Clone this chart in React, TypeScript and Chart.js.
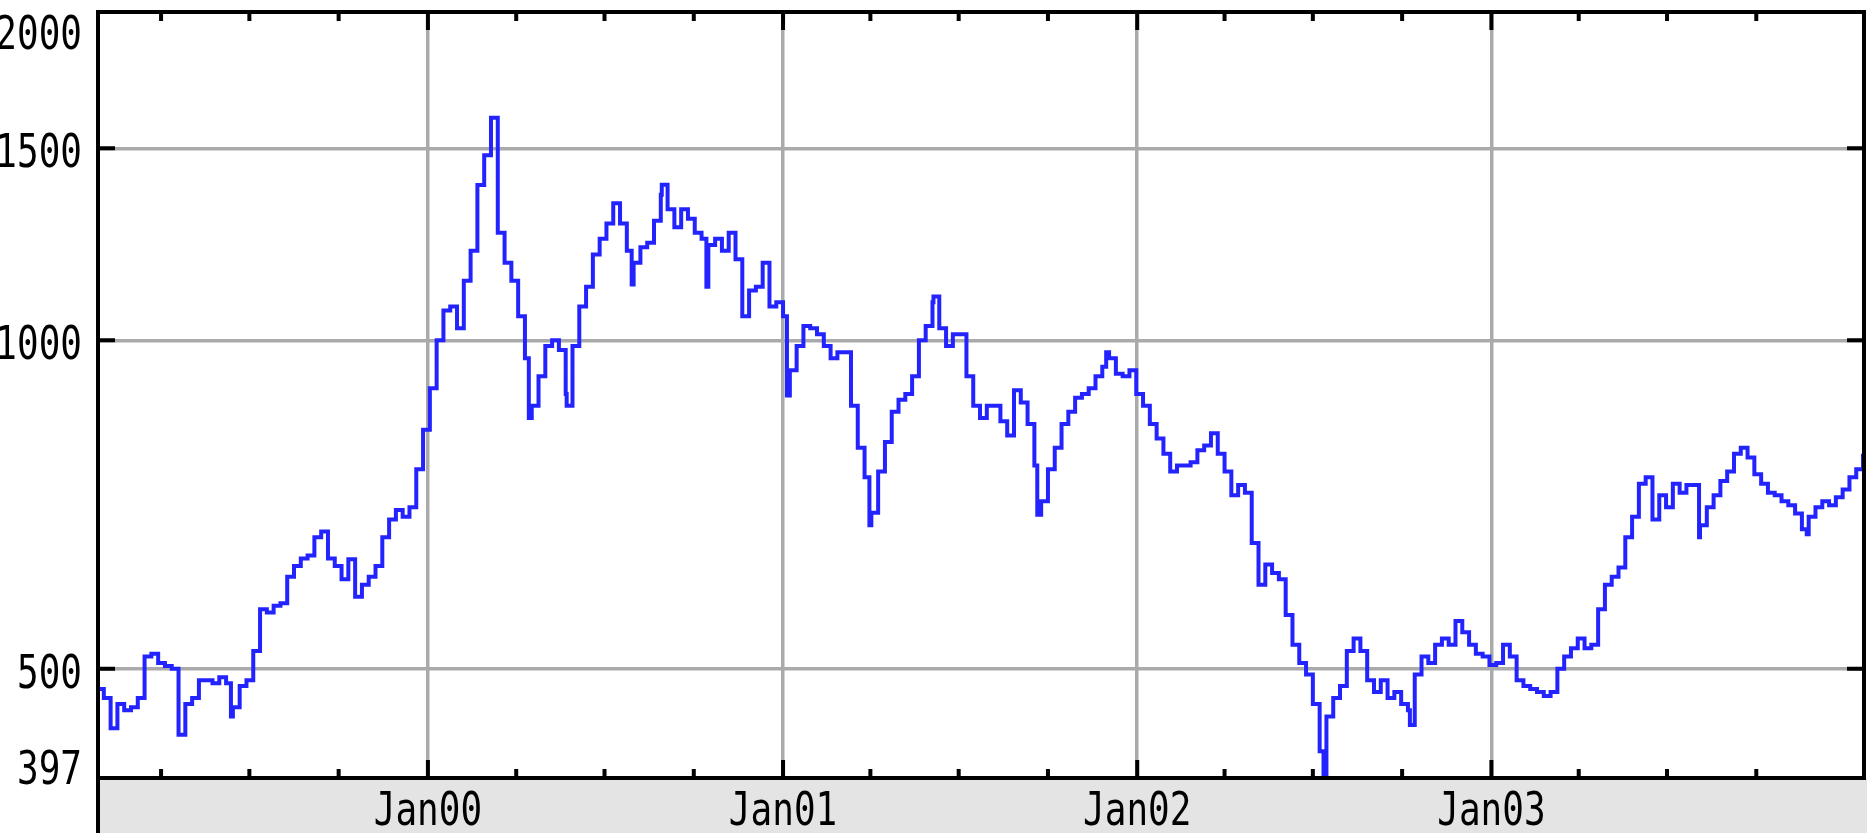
import React, { useEffect, useRef } from "react";
import { Chart, registerables } from "chart.js";

Chart.register(...registerables);

// ---- data (weekly closes) ----
const firstWeek = "1999-01-25";
const closes1 = [
  479, 470, 452, 464, 458, 461, 470, 513, 516, 506,
  503, 500, 435, 464, 470, 488, 488, 485, 491, 485,
  461, 482, 488, 519, 567, 563, 571, 574, 607, 621,
  631, 635, 660, 668, 631, 621, 604, 630, 582, 597,
  607, 621, 660, 685, 699, 689, 703, 762, 828, 904,
];
const closes2 = [
  1000, 1065, 1074, 1026, 1134, 1208, 1388, 1478, 1600, 1255,
  1178, 1134, 1052, 963, 871, 927, 988, 1000, 980, 893,
  988, 1074, 1120, 1199, 1239, 1280, 1336, 1280, 1208, 1178,
  1217, 1229, 1287, 1360, 1319, 1270, 1319, 1293, 1255, 1239,
  1223, 1239, 1208, 1255, 1187, 1092, 1111, 1120, 1178, 1074,
];
const closes3 = [
  1084, 1052, 939, 988, 1031, 1026, 1013, 988, 963, 975,
  975, 871, 797, 749, 695, 758, 807, 860, 882, 893,
  927, 1000, 1031, 1084, 1026, 988, 1013, 1013, 927, 871,
  849, 871, 871, 843, 818, 900, 877, 838, 768, 712,
  762, 797, 838, 860, 886, 893, 904, 927, 946, 963,
];
const closes4 = [
  932, 927, 939, 893, 871, 838, 813, 787, 758, 768,
  768, 773, 793, 801, 822, 787, 758, 721, 737, 725,
  652, 597, 623, 612, 604, 560, 526, 506, 494, 464,
  420, 452, 470, 482, 519, 533, 519, 488, 476, 488,
  470, 476, 464, 458, 494, 513, 506, 526, 533, 526,
];
const closes5 = [
  553, 540, 526, 516, 513, 504, 506, 526, 513, 488,
  482, 479, 476, 472, 476, 500, 513, 522, 533, 522,
  526, 567, 597, 607, 619, 660, 689, 739, 749, 685,
  721, 703, 739, 725, 737, 737, 677, 703, 721, 743,
  758, 787, 797, 781, 754, 739, 725, 721, 712, 706,
  694, 671, 689, 703, 712, 706, 718, 730, 749, 762,
  787,
];
// intra-week extremes visible in the reference (days since 2000-01-01, value)
const spikeDays = [-327, -203, 104, 143, 210, 241, 287, 324, 370, 455, 521, 628, 699, 923, 1012, 1310, 1421];
const spikeValues = [441, 452, 849, 871, 1125, 1389, 1120, 1052, 890, 677, 1097, 692, 975, 399, 444, 660, 664];

const yTickValues = [397, 500, 1000, 1500, 2000];
const yGridValues = [500, 1000, 1500];
const yearLabels = ["Jan00", "Jan01", "Jan02", "Jan03"];
const yearStarts = ["2000-01-01", "2001-01-01", "2002-01-01", "2003-01-01"];
const quarterStarts = [
  "1999-04-01", "1999-07-01", "1999-10-01",
  "2000-04-01", "2000-07-01", "2000-10-01",
  "2001-04-01", "2001-07-01", "2001-10-01",
  "2002-04-01", "2002-07-01", "2002-10-01",
  "2003-04-01", "2003-07-01", "2003-10-01",
];
const axisStart = "1999-01-26";
const axisEnd = "2004-01-20";

// ---- helpers ----
const DAY = 86400000;
const EPOCH = Date.parse("2000-01-01T00:00:00Z");
const dayNum = (s: string) => Math.round((Date.parse(s + "T00:00:00Z") - EPOCH) / DAY);

const allCloses = [...closes1, ...closes2, ...closes3, ...closes4, ...closes5];
const points = [
  ...allCloses.map((v, i) => ({ x: dayNum(firstWeek) + 7 * i, y: v })),
  ...spikeDays.map((d, i) => ({ x: d, y: spikeValues[i] })),
].sort((a, b) => a.x - b.x);

const FONT = "36px 'DejaVu Sans Mono', monospace";
const STRETCH = 1.3;
const CAP = 0.729 * 36 * STRETCH;

function drawLabel(ctx: CanvasRenderingContext2D, text: string, x: number, cy: number, align: CanvasTextAlign) {
  ctx.save();
  ctx.translate(x, cy + CAP / 2);
  ctx.scale(1, STRETCH);
  ctx.font = FONT;
  ctx.fillStyle = "#000";
  ctx.textAlign = align;
  ctx.textBaseline = "alphabetic";
  ctx.fillText(text, 0, 0);
  ctx.restore();
}

const framePlugin = {
  id: "frame",
  afterDraw(chart: any) {
    const { ctx, chartArea: a, scales } = chart;
    const xs = scales.x;
    const ys = scales.y;
    const H = chart.height;
    ctx.save();
    // bottom strip
    ctx.fillStyle = "#e4e4e4";
    ctx.fillRect(a.left, a.bottom, chart.width - a.left, H - a.bottom);

    ctx.strokeStyle = "#000";
    ctx.lineWidth = 4;
    ctx.lineCap = "butt";
    ctx.beginPath();
    yGridValues.forEach((v) => {
      const p = ys.getPixelForValue(v);
      ctx.moveTo(a.left, p);
      ctx.lineTo(a.left + 17, p);
      ctx.moveTo(a.right, p);
      ctx.lineTo(a.right - 17, p);
    });
    yearStarts.forEach((s) => {
      const p = xs.getPixelForValue(dayNum(s));
      ctx.moveTo(p, a.bottom);
      ctx.lineTo(p, a.bottom - 18);
      ctx.moveTo(p, a.top);
      ctx.lineTo(p, a.top + 18);
    });
    quarterStarts.forEach((s) => {
      const p = xs.getPixelForValue(dayNum(s));
      ctx.moveTo(p, a.bottom);
      ctx.lineTo(p, a.bottom - 9);
      ctx.moveTo(p, a.top);
      ctx.lineTo(p, a.top + 9);
    });
    ctx.stroke();

    // frame
    ctx.lineCap = "square";
    ctx.beginPath();
    ctx.moveTo(a.left, a.top);
    ctx.lineTo(a.right, a.top);
    ctx.lineTo(a.right, a.bottom);
    ctx.moveTo(a.left, a.bottom);
    ctx.lineTo(a.right, a.bottom);
    ctx.moveTo(a.left, a.top);
    ctx.lineTo(a.left, H + 4);
    ctx.stroke();

    yTickValues.forEach((v) => {
      const p = ys.getPixelForValue(v);
      const cy = Math.min(Math.max(p + 2, a.top + 20), a.bottom - 11);
      drawLabel(ctx, String(v), 82, cy, "right");
    });
    yearStarts.forEach((s, k) => {
      const p = xs.getPixelForValue(dayNum(s));
      drawLabel(ctx, yearLabels[k], p, 808, "center");
    });
    ctx.restore();
  },
};

export default function App() {
  const ref = useRef<HTMLCanvasElement>(null);
  useEffect(() => {
    document.body.style.margin = "0";
    const chart = new Chart(ref.current as HTMLCanvasElement, {
      type: "line",
      data: {
        datasets: [
          {
            data: points,
            borderColor: "rgb(35,35,255)",
            borderWidth: 4,
            pointRadius: 0,
            stepped: true,
            fill: false,
          },
        ],
      },
      options: {
        responsive: false,
        animation: false,
        devicePixelRatio: 1,
        layout: { padding: { left: 98, right: 3, top: 12, bottom: 55 } },
        plugins: { legend: { display: false }, tooltip: { enabled: false } },
        scales: {
          x: {
            type: "linear",
            min: dayNum(axisStart),
            max: dayNum(axisEnd),
            afterBuildTicks: (axis: any) => {
              axis.ticks = yearStarts.map((s) => ({ value: dayNum(s) }));
            },
            ticks: { display: false },
            grid: { color: "#aaaaaa", lineWidth: 3.5, drawTicks: false },
            border: { display: false },
          },
          y: {
            type: "logarithmic",
            min: 397,
            max: 2000,
            afterBuildTicks: (axis: any) => {
              axis.ticks = yGridValues.map((v) => ({ value: v }));
            },
            ticks: { display: false },
            grid: { color: "#aaaaaa", lineWidth: 3.5, drawTicks: false },
            border: { display: false },
          },
        },
      },
      plugins: [framePlugin],
    } as any);
    return () => chart.destroy();
  }, []);
  return (
    <canvas
      ref={ref}
      width={1867}
      height={833}
      style={{ display: "block", width: 1867, height: 833 }}
    />
  );
}
